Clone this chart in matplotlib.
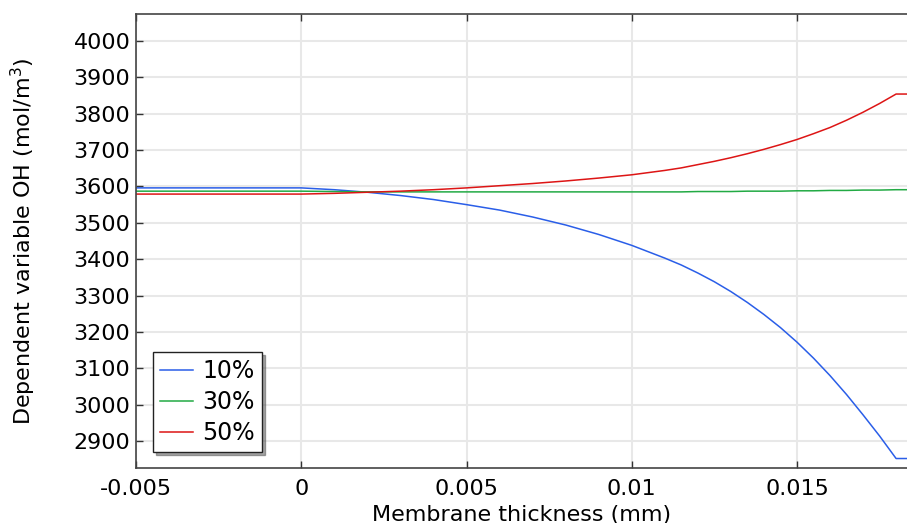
import matplotlib.pyplot as plt

# Membrane thickness (mm)
x = [-0.005, 0.0,
     0.001, 0.002, 0.003, 0.004, 0.005, 0.006, 0.007, 0.008, 0.009, 0.010, 0.011,
     0.0115, 0.012, 0.0125, 0.013, 0.0135, 0.014, 0.0145, 0.015, 0.0155,
     0.016, 0.0165, 0.017, 0.0175, 0.018,
     0.0184]

# OH concentration (mol/m^3)
oh_10 = [3596, 3596,
         3591, 3584, 3575, 3564, 3550, 3535, 3516, 3494, 3468, 3438, 3403,
         3384, 3362, 3338, 3311, 3281, 3248, 3212, 3172, 3128,
         3080, 3028, 2972, 2914, 2852,
         2852]
oh_30 = [3587, 3587,
         3586, 3585, 3585, 3585, 3585, 3585, 3585, 3585, 3585, 3585, 3585,
         3585, 3586, 3586, 3586, 3587, 3587, 3587, 3588, 3588,
         3589, 3589, 3590, 3590, 3591,
         3591]
oh_50 = [3579, 3579,
         3581, 3584, 3587, 3591, 3596, 3602, 3608, 3615, 3623, 3632, 3644,
         3651, 3660, 3669, 3679, 3690, 3702, 3715, 3729, 3745,
         3762, 3782, 3804, 3828, 3854,
         3854]

labels = ['10%', '30%', '50%']
colors = ['#2a5ee8', '#22aa44', '#dd1515']

fs = 16

fig = plt.figure(figsize=(9.07, 5.23), dpi=100)
ax = fig.add_axes([0.15, 0.1052, 0.85, 0.868])

for y, lab, c in zip([oh_10, oh_30, oh_50], labels, colors):
    ax.plot(x, y, color=c, lw=1.1, label=lab)

ax.set_xlim(-0.005, 0.01833)
ax.set_ylim(2826, 4074)
ax.set_xticks([-0.005, 0, 0.005, 0.01, 0.015])
ax.set_xticklabels(['-0.005', '0', '0.005', '0.01', '0.015'])
ax.set_yticks(range(2900, 4001, 100))

ax.grid(True, color='#e8e8e8', lw=1.5)
ax.set_axisbelow(True)
ax.tick_params(direction='in', length=5, width=1, labelsize=fs,
               top=True, color='#333333')
ax.tick_params(axis='x', pad=8)
ax.tick_params(axis='y', pad=4)
for side in ['left', 'bottom', 'top']:
    ax.spines[side].set_color('#444444')
    ax.spines[side].set_linewidth(1.2)
ax.spines['right'].set_visible(False)

ax.set_xlabel('Membrane thickness (mm)', fontsize=fs, labelpad=4)
ax.set_ylabel('Dependent variable OH (mol/m$^3$)', fontsize=fs, labelpad=26)

leg = ax.legend(loc='lower left', bbox_to_anchor=(0.022, 0.035), fontsize=17,
                fancybox=False, shadow=True, edgecolor='#222222',
                framealpha=1, handlelength=1.4, handletextpad=0.4,
                borderpad=0.3, labelspacing=0.3, borderaxespad=0)
leg.get_frame().set_linewidth(1.0)

fig.savefig('out.png', dpi=100)
plt.close(fig)
